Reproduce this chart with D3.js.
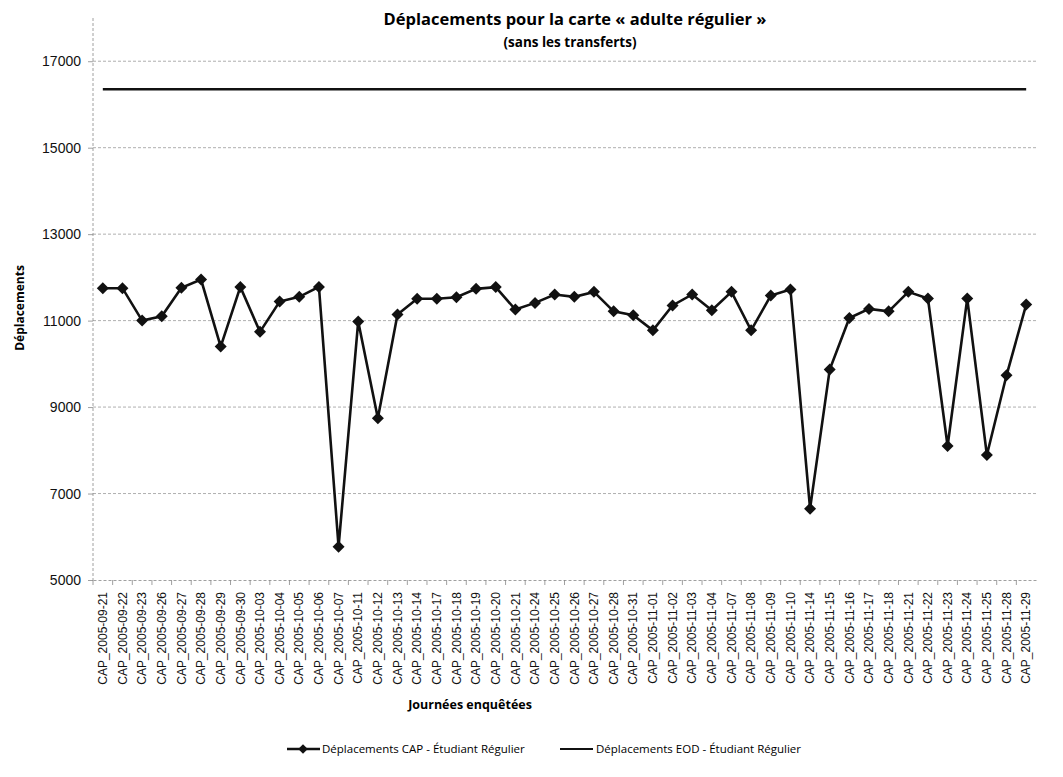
<!DOCTYPE html>
<html>
<head>
<meta charset="utf-8">
<script src="https://cdn.jsdelivr.net/npm/d3@7"></script>
<style>
  body { margin: 0; background: #fff; }
  svg { font-family: 'Open Sans', 'Noto Sans', sans-serif; }
  .grid line { stroke: #9a9a9a; stroke-width: 0.8; stroke-dasharray: 3,2; }
  .axis path, .axis line { stroke: #888; stroke-width: 0.8; }
  .axis text { fill: #111; }
</style>
</head>
<body>
<div id="chart"></div>
<script>
// journées enquêtées
const days = [
  'CAP_2005-09-21', 'CAP_2005-09-22', 'CAP_2005-09-23', 'CAP_2005-09-26', 'CAP_2005-09-27',
  'CAP_2005-09-28', 'CAP_2005-09-29', 'CAP_2005-09-30', 'CAP_2005-10-03', 'CAP_2005-10-04',
  'CAP_2005-10-05', 'CAP_2005-10-06', 'CAP_2005-10-07', 'CAP_2005-10-11', 'CAP_2005-10-12',
  'CAP_2005-10-13', 'CAP_2005-10-14', 'CAP_2005-10-17', 'CAP_2005-10-18', 'CAP_2005-10-19',
  'CAP_2005-10-20', 'CAP_2005-10-21', 'CAP_2005-10-24', 'CAP_2005-10-25', 'CAP_2005-10-26',
  'CAP_2005-10-27', 'CAP_2005-10-28', 'CAP_2005-10-31', 'CAP_2005-11-01', 'CAP_2005-11-02',
  'CAP_2005-11-03', 'CAP_2005-11-04', 'CAP_2005-11-07', 'CAP_2005-11-08', 'CAP_2005-11-09',
  'CAP_2005-11-10', 'CAP_2005-11-14', 'CAP_2005-11-15', 'CAP_2005-11-16', 'CAP_2005-11-17',
  'CAP_2005-11-18', 'CAP_2005-11-21', 'CAP_2005-11-22', 'CAP_2005-11-23', 'CAP_2005-11-24',
  'CAP_2005-11-25', 'CAP_2005-11-28', 'CAP_2005-11-29'
]
// déplacements CAP
const capValues = [
  11750, 11750, 11000, 11100, 11760, 11950, 10400, 11780, 10740, 11440,
  11550, 11780, 5770, 10980, 8740, 11140, 11505, 11505, 11540, 11735,
  11775, 11255, 11410, 11605, 11550, 11665, 11215, 11125, 10775, 11350,
  11605, 11240, 11665, 10775, 11580, 11720, 6650, 9870, 11060, 11270,
  11215, 11665, 11510, 8100, 11510, 7890, 9735, 11370
]
// déplacements EOD (valeur unique)
const eodValue = 16350
const yTicks = [5000, 7000, 9000, 11000, 13000, 15000, 17000]

const W = 1063
const H = 777
const m = { left: 93, right: 1036, top: 18, bottom: 580 }

const svg = d3.select('#chart').append('svg')
  .attr('width', W)
  .attr('height', H)

const x = d3.scaleBand().domain(days).range([m.left, m.right])
const y = d3.scaleLinear().domain([5000, 18000]).range([m.bottom, m.top])
const cx = d => x(d) + x.bandwidth() / 2

// grille horizontale
svg.append('g').attr('class', 'grid')
  .selectAll('line')
  .data(yTicks.slice(1))
  .enter().append('line')
  .attr('x1', m.left).attr('x2', m.right)
  .attr('y1', d => y(d)).attr('y2', d => y(d))

// axe y
const yAxis = svg.append('g').attr('class', 'axis')
  .attr('transform', `translate(${m.left},0)`)
  .call(d3.axisLeft(y).tickValues(yTicks).tickSize(5).tickPadding(7).tickFormat(d3.format('d')))
yAxis.select('.domain').attr('d', `M0,${m.top}V${m.bottom}`).attr('stroke-dasharray', '3,2')
yAxis.selectAll('text').style('font-size', '14px')

// axe x
const xAxis = svg.append('g').attr('class', 'axis')
  .attr('transform', `translate(0,${m.bottom})`)
  .call(d3.axisBottom(x).tickSize(0).tickPadding(0))
xAxis.select('.domain').attr('stroke-dasharray', '3,2')
xAxis.selectAll('.tick text')
  .attr('transform', 'rotate(-90)')
  .attr('text-anchor', 'end')
  .attr('x', -12)
  .attr('y', 0)
  .attr('dy', '0.35em')
  .style('font-size', '12px')
// petites graduations entre catégories
xAxis.append('g').selectAll('line')
  .data(days)
  .enter().append('line')
  .attr('x1', d => x(d)).attr('x2', d => x(d))
  .attr('y1', 0).attr('y2', 5)
  .attr('stroke', '#888').attr('stroke-width', 0.8)

// série EOD
svg.append('line')
  .attr('x1', cx(days[0])).attr('x2', cx(days[days.length - 1]))
  .attr('y1', y(eodValue)).attr('y2', y(eodValue))
  .attr('stroke', '#111').attr('stroke-width', 2.5)

// série CAP
const line = d3.line().x((d, i) => cx(days[i])).y(d => y(d))
svg.append('path')
  .datum(capValues)
  .attr('fill', 'none')
  .attr('stroke', '#111')
  .attr('stroke-width', 2.6)
  .attr('d', line)

svg.append('g').selectAll('path')
  .data(capValues)
  .enter().append('path')
  .attr('transform', (d, i) => `translate(${cx(days[i])},${y(d)}) rotate(45)`)
  .attr('d', d3.symbol().type(d3.symbolSquare).size(72))
  .attr('fill', '#111')

// titres
svg.append('text')
  .attr('x', 575).attr('y', 25)
  .attr('text-anchor', 'middle')
  .style('font-size', '16.5px').style('font-weight', 'bold')
  .text('Déplacements pour  la carte « adulte régulier »')
svg.append('text')
  .attr('x', 570).attr('y', 47)
  .attr('text-anchor', 'middle')
  .style('font-size', '13.5px').style('font-weight', 'bold')
  .text('(sans les transferts)')
svg.append('text')
  .attr('transform', 'translate(24,308) rotate(-90)')
  .attr('text-anchor', 'middle')
  .style('font-size', '12px').style('font-weight', 'bold')
  .text('Déplacements')
svg.append('text')
  .attr('x', 470).attr('y', 709)
  .attr('text-anchor', 'middle')
  .style('font-size', '12.5px').style('font-weight', 'bold')
  .text('Journées enquêtées')

// légende
const leg = svg.append('g').style('font-size', '11.5px')
leg.append('line').attr('x1', 287).attr('x2', 320).attr('y1', 749).attr('y2', 749)
  .attr('stroke', '#111').attr('stroke-width', 2.5)
leg.append('path').attr('transform', 'translate(303,749) rotate(45)')
  .attr('d', d3.symbol().type(d3.symbolSquare).size(45)).attr('fill', '#111')
leg.append('text').attr('x', 322).attr('y', 753).text('Déplacements CAP - Étudiant Régulier')
leg.append('line').attr('x1', 560).attr('x2', 593).attr('y1', 749).attr('y2', 749)
  .attr('stroke', '#111').attr('stroke-width', 2)
leg.append('text').attr('x', 596).attr('y', 753).text('Déplacements EOD - Étudiant Régulier')
</script>
</body>
</html>
